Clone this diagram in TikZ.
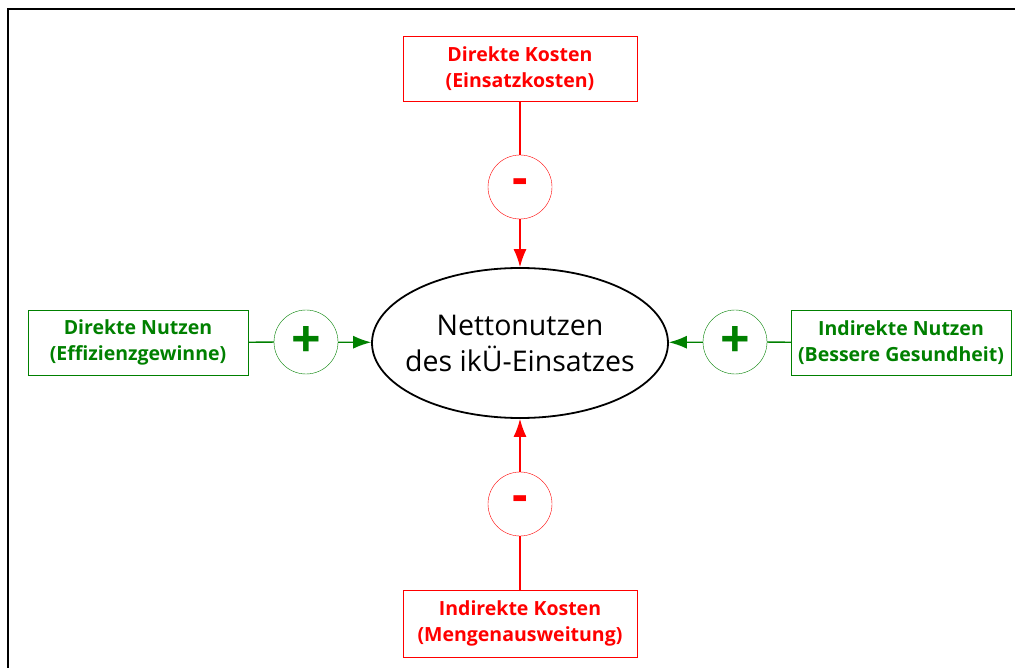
\documentclass[tikz,border=0pt]{standalone}
\usepackage{fontspec}
\setmainfont{Open Sans}
\usetikzlibrary{shapes.geometric}
\usetikzlibrary{arrows.meta}

\definecolor{kostred}{RGB}{255,0,0}
\definecolor{nutzgreen}{RGB}{0,128,0}

\begin{document}
\begin{tikzpicture}[x=1pt,y=-1pt,
    kostbox/.style={draw=kostred,text=kostred,minimum width=234pt,minimum height=65pt,
        align=center,font=\fontsize{19.5}{26}\selectfont\bfseries},
    nutzbox/.style={draw=nutzgreen,text=nutzgreen,minimum width=220pt,minimum height=65pt,
        align=center,font=\fontsize{19.5}{26}\selectfont\bfseries},
    kostsign/.style={circle,draw=kostred,text=kostred,minimum size=64pt,inner sep=0pt,
        font=\fontsize{48}{48}\selectfont\bfseries},
    nutzsign/.style={circle,draw=nutzgreen,text=nutzgreen,minimum size=64pt,inner sep=0pt,
        font=\fontsize{52}{52}\selectfont\bfseries},
    kostline/.style={kostred,line width=1.3pt},
    nutzline/.style={nutzgreen,line width=1.3pt},
    tip/.style={-{Latex[length=18pt,width=13pt]}}]

    \useasboundingbox (0,0) rectangle (1015,668);

    % Frame
    \draw[line width=1.5pt] (8,668) -- (8,9) -- (1015,9);

    % Place the centre node
    \node[ellipse,draw=black,line width=1.8pt,minimum width=296pt,minimum height=150pt,
        inner xsep=-14pt,inner ysep=0pt,align=center,font=\fontsize{28.5}{36}\selectfont]
        (netto) at (520,343) {Nettonutzen\\des ikÜ-Einsatzes};

    % Place the cost nodes
    \node[kostbox] (dk) at (520,68.5) {Direkte Kosten\\(Einsatzkosten)};
    \node[kostsign] (dkm) at (520,187) {-};
    \node[kostbox,minimum height=67pt] (ik) at (520,623.5) {Indirekte Kosten\\(Mengenausweitung)};
    \node[kostsign] (ikm) at (520,504) {-};

    % Place the benefit nodes
    \node[nutzbox] (dn) at (138,342.5) {Direkte Nutzen\\(Effizienzgewinne)};
    \node[nutzsign] (dnp) at (306,342) {+};
    \node[nutzbox] (in) at (901,342.5) {Indirekte Nutzen\\(Bessere Gesundheit)};
    \node[nutzsign] (inp) at (735,342) {+};

    % Draw the connections
    \draw[kostline] (dk) -- (dkm);
    \draw[kostline,tip] (dkm) -- (netto);
    \draw[kostline] (ik) -- (ikm);
    \draw[kostline,tip] (ikm) -- (netto);
    \draw[nutzline] (dn) -- (dnp);
    \draw[nutzline,tip] (dnp) -- (netto);
    \draw[nutzline] (in) -- (inp);
    \draw[nutzline,tip] (inp) -- (netto);

\end{tikzpicture}
\end{document}
